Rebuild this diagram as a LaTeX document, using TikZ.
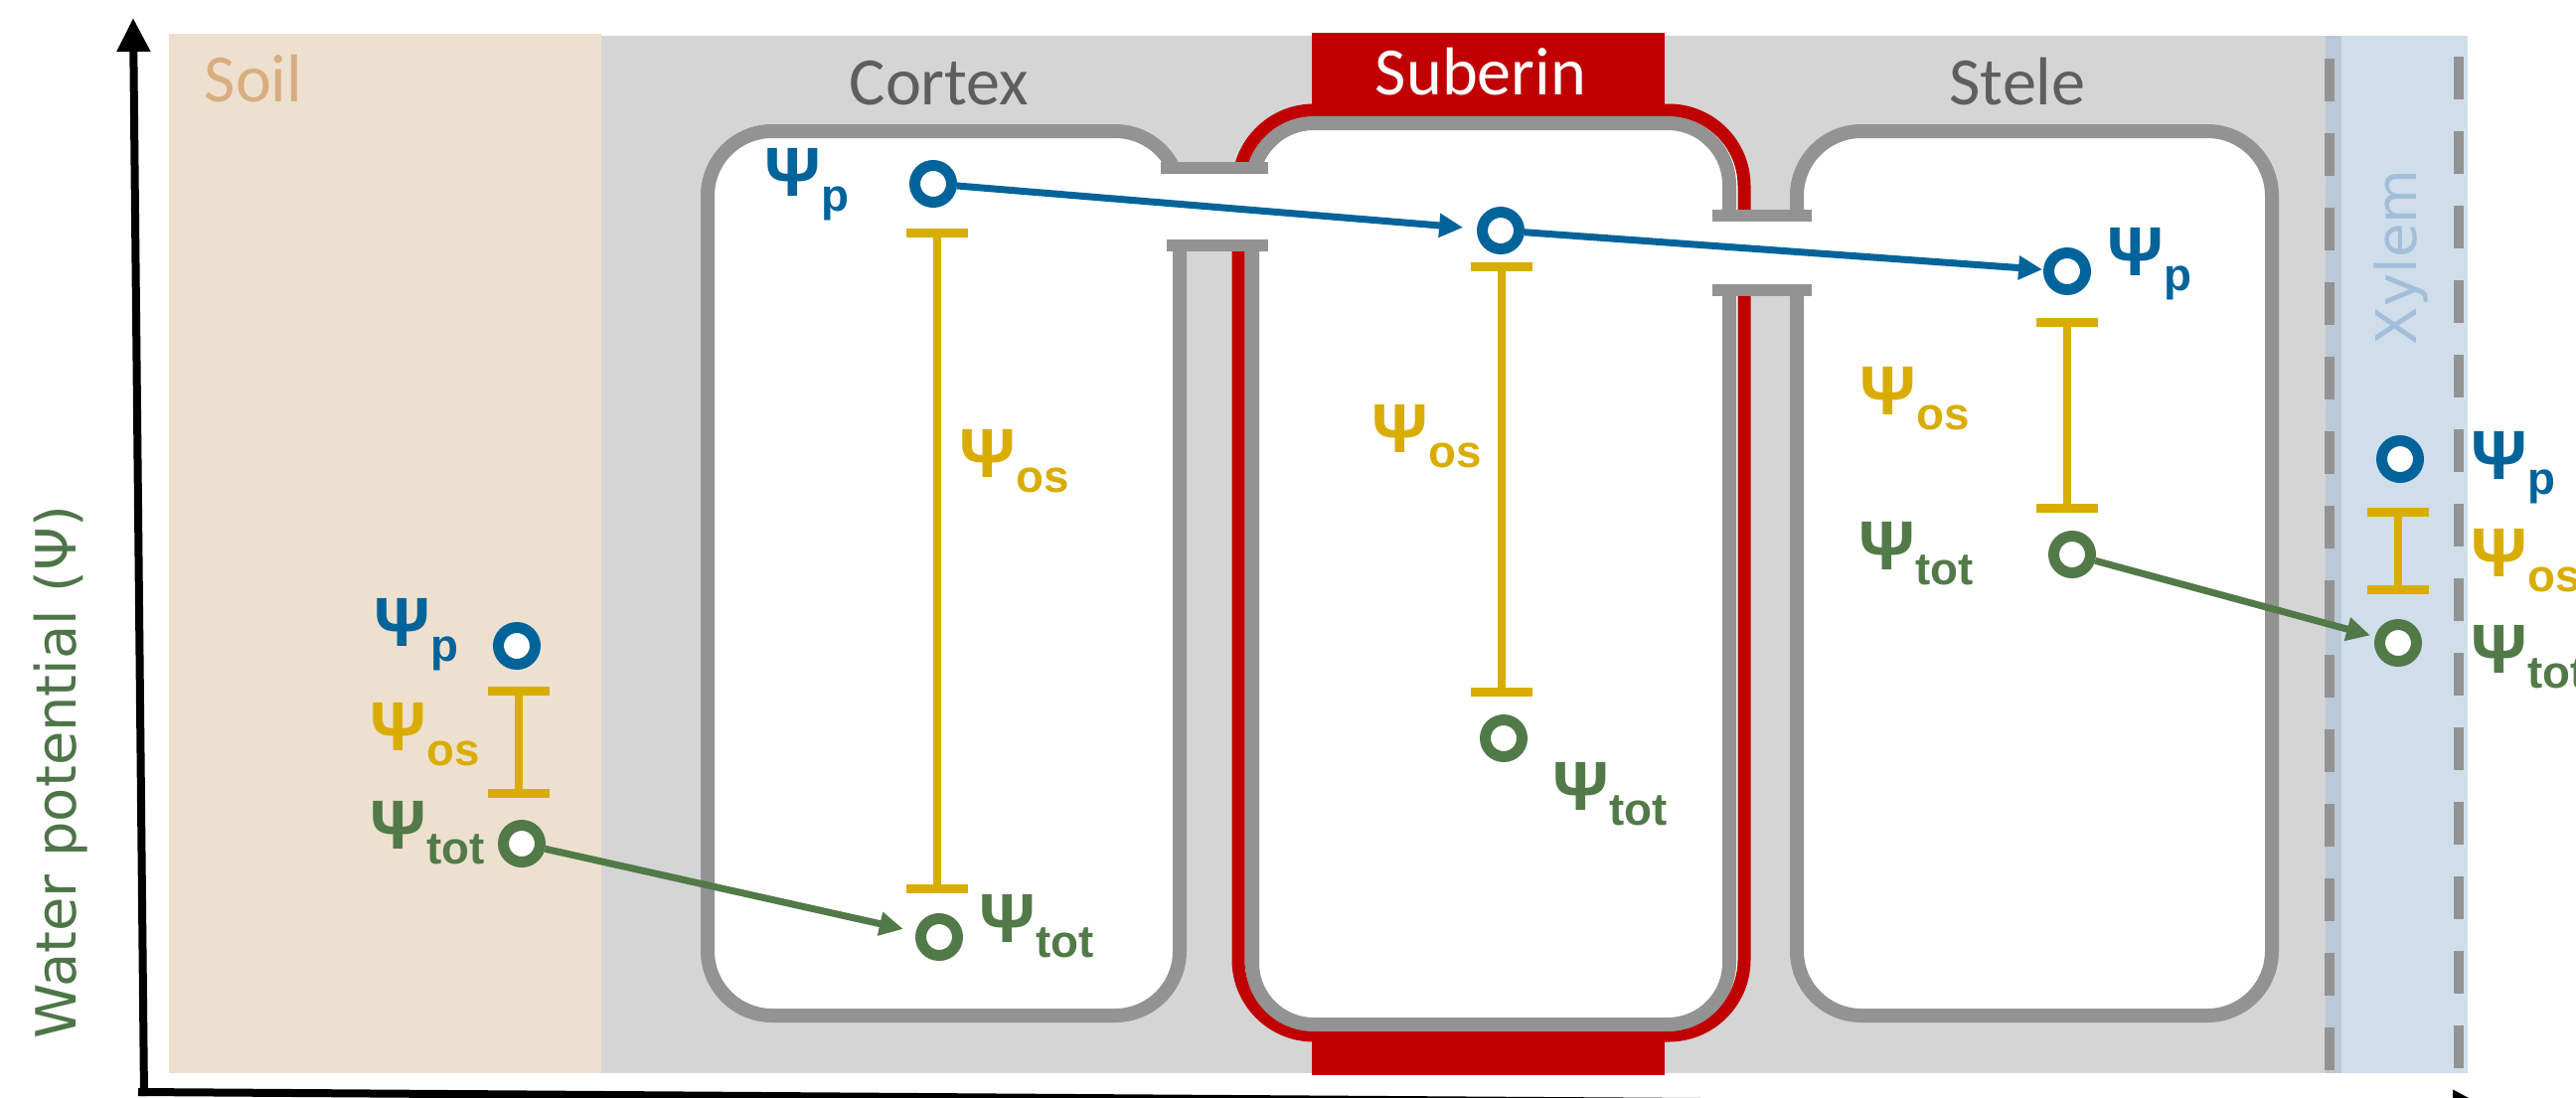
\documentclass[tikz,border=0pt]{standalone}
\usepackage{fontspec}
\setmainfont{Liberation Sans}
\newfontfamily\carl{Carlito}
\newfontfamily\dvs{DejaVu Sans}
\usetikzlibrary{arrows.meta}
\definecolor{soilbg}{HTML}{EEE0CE}
\definecolor{soiltxt}{HTML}{D9AD80}
\definecolor{wallbg}{HTML}{D5D5D5}
\definecolor{wall}{HTML}{939393}
\definecolor{xylbg}{HTML}{D0DEEB}
\definecolor{xylstrip}{HTML}{B9C9D7}
\definecolor{xyltxt}{HTML}{A3BEDA}
\definecolor{suber}{HTML}{C00000}
\definecolor{lbl}{HTML}{5E5E5E}
\definecolor{cp}{HTML}{00649A}
\definecolor{cos}{HTML}{D9AD00}
\definecolor{ctot}{HTML}{527A48}
\definecolor{axlbl}{HTML}{4E7548}
\newcommand\psilab[1]{\bfseries\fontsize{19.9pt}{20pt}\selectfont Ψ\raisebox{-1.5mm}{\fontsize{13pt}{13pt}\selectfont #1}}
\newcommand\osbar[3]{%
  \draw[osline] (#1,#2) -- (#1,#3);
  \draw[oscap] (#1-31,#2) -- (#1+31,#2);
  \draw[oscap] (#1-31,#3) -- (#1+31,#3);}
\tikzset{
  cell/.style={draw=wall, line width=1.4mm, fill=white, rounded corners=6.5mm},
  stub/.style={draw=wall, line width=1.2mm},
  region/.style={font=\carl\fontsize{19.4pt}{20pt}\selectfont, inner sep=0pt, anchor=base},
  psi/.style={anchor=base west, inner sep=0pt},
  ring/.style={circle, minimum size=3.7mm, inner sep=0pt, line width=1.1mm, fill=white},
  flow/.style={line width=0.7mm, -{Triangle[length=2.4mm,width=2.3mm]}},
  osline/.style={draw=cos, line width=0.8mm},
  oscap/.style={draw=cos, line width=0.9mm},
  xyldash/.style={draw=wall, line width=1mm, dash pattern=on 4.3mm off 3.2mm},
  axis/.style={line width=0.8mm, -{Triangle[length=3.4mm,width=3.2mm]}}
}
\begin{document}
\begin{tikzpicture}[x=0.1mm, y=-0.1mm]
\useasboundingbox (0,0) rectangle (2592,1104);
\fill[white] (0,0) rectangle (2592,1104);
% backgrounds
\fill[soilbg] (170,34) rectangle (605,1080);
\fill[wallbg] (605,36) rectangle (2345,1080);
\fill[xylbg] (2345,36) rectangle (2483,1080);
\fill[xylstrip] (2340,36) rectangle (2356,1080);
% endodermis cell with suberin
\draw[draw=suber, line width=1.3mm, fill=white, rounded corners=7.6mm] (1246,111) rectangle (1755,1042);
\fill[suber] (1320,33) rectangle (1675,112);
\fill[suber] (1320,1040) rectangle (1675,1082);
\draw[cell, rounded corners=6.2mm] (1260,124) rectangle (1740,1031);
% cortex and stele cells
\draw[cell] (712,132) rectangle (1187,1022);
\draw[cell] (1808,132) rectangle (2286,1022);
% plasmodesmata channels
\fill[white] (1166,175) rectangle (1277,241);
\draw[stub] (1168,169) -- (1276,169);
\draw[stub] (1174,247) -- (1276,247);
\fill[white] (1721,222) rectangle (1825,286);
\draw[stub] (1723,216.5) -- (1823,216.5);
\draw[stub] (1723,292) -- (1823,292);
% xylem dashed borders
\draw[xyldash] (2344,59) -- (2344,1080);
\draw[xyldash] (2474,57) -- (2474,1080);
% region labels
\node[region, anchor=base west, text=soiltxt] (tSoil) at (205,102) {Soil};
\node[region, text=lbl] (tCortex) at (945,105) {Cortex};
\node[region, text=white] (tSuberin) at (1490,95) {Suberin};
\node[region, text=lbl] (tStele) at (2030,105) {Stele};
\node[rotate=90, anchor=base, inner sep=0pt, text=xyltxt, font=\dvs\fontsize{16pt}{17pt}\selectfont] (tXylem) at (2431,259) {Xylem};
\node[rotate=90, anchor=base, inner sep=0pt, text=axlbl, font=\dvs\fontsize{15.9pt}{17pt}\selectfont] (tAxis) at (77,777) {Water potential (Ψ)};
% psi labels
\node[psi, text=cp] (lsp) at (376,650) {\psilab{p}};
\node[psi, text=cos] (lsos) at (372,755) {\psilab{os}};
\node[psi, text=ctot] (lstot) at (372,854) {\psilab{tot}};
\node[psi, text=cp] (lcp) at (769,197) {\psilab{p}};
\node[psi, text=cos] (lcos) at (965,480) {\psilab{os}};
\node[psi, text=ctot] (lctot) at (985,948) {\psilab{tot}};
\node[psi, text=cos] (leos) at (1380,455) {\psilab{os}};
\node[psi, text=ctot] (letot) at (1562,815) {\psilab{tot}};
\node[psi, text=cp] (lstp) at (2120,277) {\psilab{p}};
\node[psi, text=cos] (lstos) at (1871,417) {\psilab{os}};
\node[psi, text=ctot] (lsttot) at (1870,573) {\psilab{tot}};
\node[psi, text=cp] (lxp) at (2486,482) {\psilab{p}};
\node[psi, text=cos] (lxos) at (2486,580) {\psilab{os}};
\node[psi, text=ctot] (lxtot) at (2486,677) {\psilab{tot}};
% osmotic bars
\osbar{522}{695}{798}
\osbar{943}{234}{894}
\osbar{1511}{268}{696}
\osbar{2080}{324}{511}
\osbar{2413}{515}{593}
% rings
\node[ring, draw=cp] (sp) at (520,650) {};
\node[ring, draw=ctot] (stot) at (525,849) {};
\node[ring, draw=cp] (cpn) at (939,185) {};
\node[ring, draw=ctot] (ctotn) at (945,943) {};
\node[ring, draw=cp] (ep) at (1510,232) {};
\node[ring, draw=ctot] (etot) at (1513,743) {};
\node[ring, draw=cp] (stp) at (2080,273) {};
\node[ring, draw=ctot] (sttot) at (2085,558) {};
\node[ring, draw=cp] (xp) at (2415,462) {};
\node[ring, draw=ctot] (xtot) at (2413,647) {};
% flows
\draw[flow, draw=ctot, shorten >=1.3mm] (stot) -- (ctotn);
\draw[flow, draw=cp, shorten >=1.4mm] (cpn) -- (ep);
\draw[flow, draw=cp, shorten >=0.1mm] (ep) -- (stp);
\draw[flow, draw=ctot, shorten >=0.5mm] (sttot) -- (xtot);
% axes
\coordinate (origin) at (143,1099);
\coordinate (ytip) at (134,18);
\coordinate (xtip) at (2502,1114);
\draw[axis] (145,1103) -- (ytip);
\draw[axis] (139,1099) -- (xtip);
\end{tikzpicture}
\end{document}
